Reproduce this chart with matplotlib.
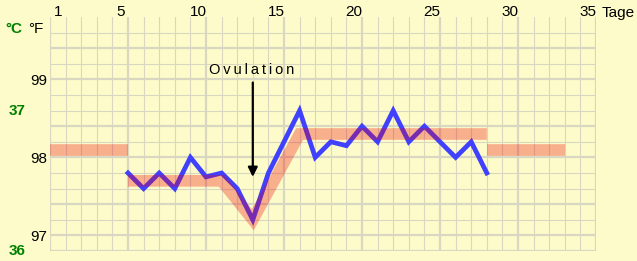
import numpy as np
import matplotlib
matplotlib.use("Agg")
import matplotlib.pyplot as plt
from matplotlib.transforms import blended_transform_factory

# temperature curve (deg F), one value per grid line 5..28
days = list(range(5, 29))
temps = [97.8, 97.6, 97.8, 97.6, 98.0, 97.75, 97.8, 97.6, 97.2, 97.8, 98.2, 98.6,
         98.0, 98.2, 98.15, 98.4, 98.2, 98.6, 98.2, 98.4, 98.2, 98.0, 98.2, 97.8]

# reference bands behind the curve
band_pre_x = [0, 5]
band_pre_y = [98.1, 98.1]
band_main_x = [5, 11, 13, 16, 28]
band_main_y = [97.7, 97.7, 97.2, 98.3, 98.3]
band_post_x = [28, 33]
band_post_y = [98.1, 98.1]

day_labels = [1, 5, 10, 15, 20, 25, 30, 35]
f_labels = [97, 98, 99]
c_labels = [36, 37]
ovulation_day = 13

bg = "#fcfbc9"
grid_col = "#d9d7c2"
plt.rcParams["font.family"] = ["Liberation Sans", "DejaVu Sans"]

fig = plt.figure(figsize=(6.37, 2.61), dpi=100, facecolor=bg)
ax = fig.add_axes([50 / 637, 10 / 261, 546 / 637, 234 / 261])
ax.set_facecolor(bg)
ax.set_xlim(0, 35)
ax.set_ylim(96.8, 99.8)

# grid
for i in range(0, 36):
    thick = i % 5 == 0
    ax.axvline(i, color=grid_col, lw=1.6 if thick else 0.8, zorder=1)
for v in np.arange(96.8, 99.7, 0.2):
    v = round(v, 1)
    frac = round(v - int(v), 1)
    thick = frac in (0.0, 0.4) or v == 96.8
    ax.axhline(v, color=grid_col, lw=1.6 if thick else 0.8, zorder=1)

for s in ax.spines.values():
    s.set_visible(False)

# curve and bands
ax.plot(days, temps, color="#4040ff", lw=3.4, zorder=3,
        solid_joinstyle="miter")
for bx, by in [(band_pre_x, band_pre_y), (band_main_x, band_main_y),
               (band_post_x, band_post_y)]:
    ax.plot(bx, by, color="#f00000", alpha=0.3, lw=8.4, zorder=4,
            solid_capstyle="butt", solid_joinstyle="miter")

# ovulation marker
ax.annotate("", xy=(ovulation_day, 97.75), xytext=(ovulation_day, 98.96),
            arrowprops=dict(arrowstyle="-|>", lw=1.6, color="black",
                            mutation_scale=14, shrinkA=0, shrinkB=0),
            zorder=6)
ax.text(ovulation_day - 0.1, 99.12, "O\u2009v\u2009u\u2009l\u2009a\u2009t\u2009i\u2009o\u2009n",
        ha="center", va="center", fontsize=10.5, zorder=6)

# axes labels
ax.xaxis.tick_top()
ax.set_xticks([d - 0.5 for d in day_labels])
ax.set_xticklabels([str(d) for d in day_labels], fontsize=11)
ax.tick_params(axis="x", length=0, pad=-1.5)
ax.set_yticks(f_labels)
ax.set_yticklabels([str(v) for v in f_labels], fontsize=11)
ax.tick_params(axis="y", length=0, pad=2)

tr = blended_transform_factory(ax.transAxes, ax.transData)
for c in c_labels:
    ax.text(-0.06, c * 9 / 5 + 32, str(c), transform=tr, ha="center",
            va="center", fontsize=11, fontweight="bold", color="#008000")
ax.text(-0.066, 99.64, "\u00b0C", transform=tr, ha="center", va="center",
        fontsize=11, fontweight="bold", color="#008000")
ax.text(-0.027, 99.64, "\u00b0F", transform=tr, ha="center", va="center",
        fontsize=11, color="black")
ax.text(1.0105, 1.0, "Tage", transform=ax.transAxes, ha="left",
        va="baseline", fontsize=11)

fig.savefig("out.png", dpi=100, facecolor=bg)
